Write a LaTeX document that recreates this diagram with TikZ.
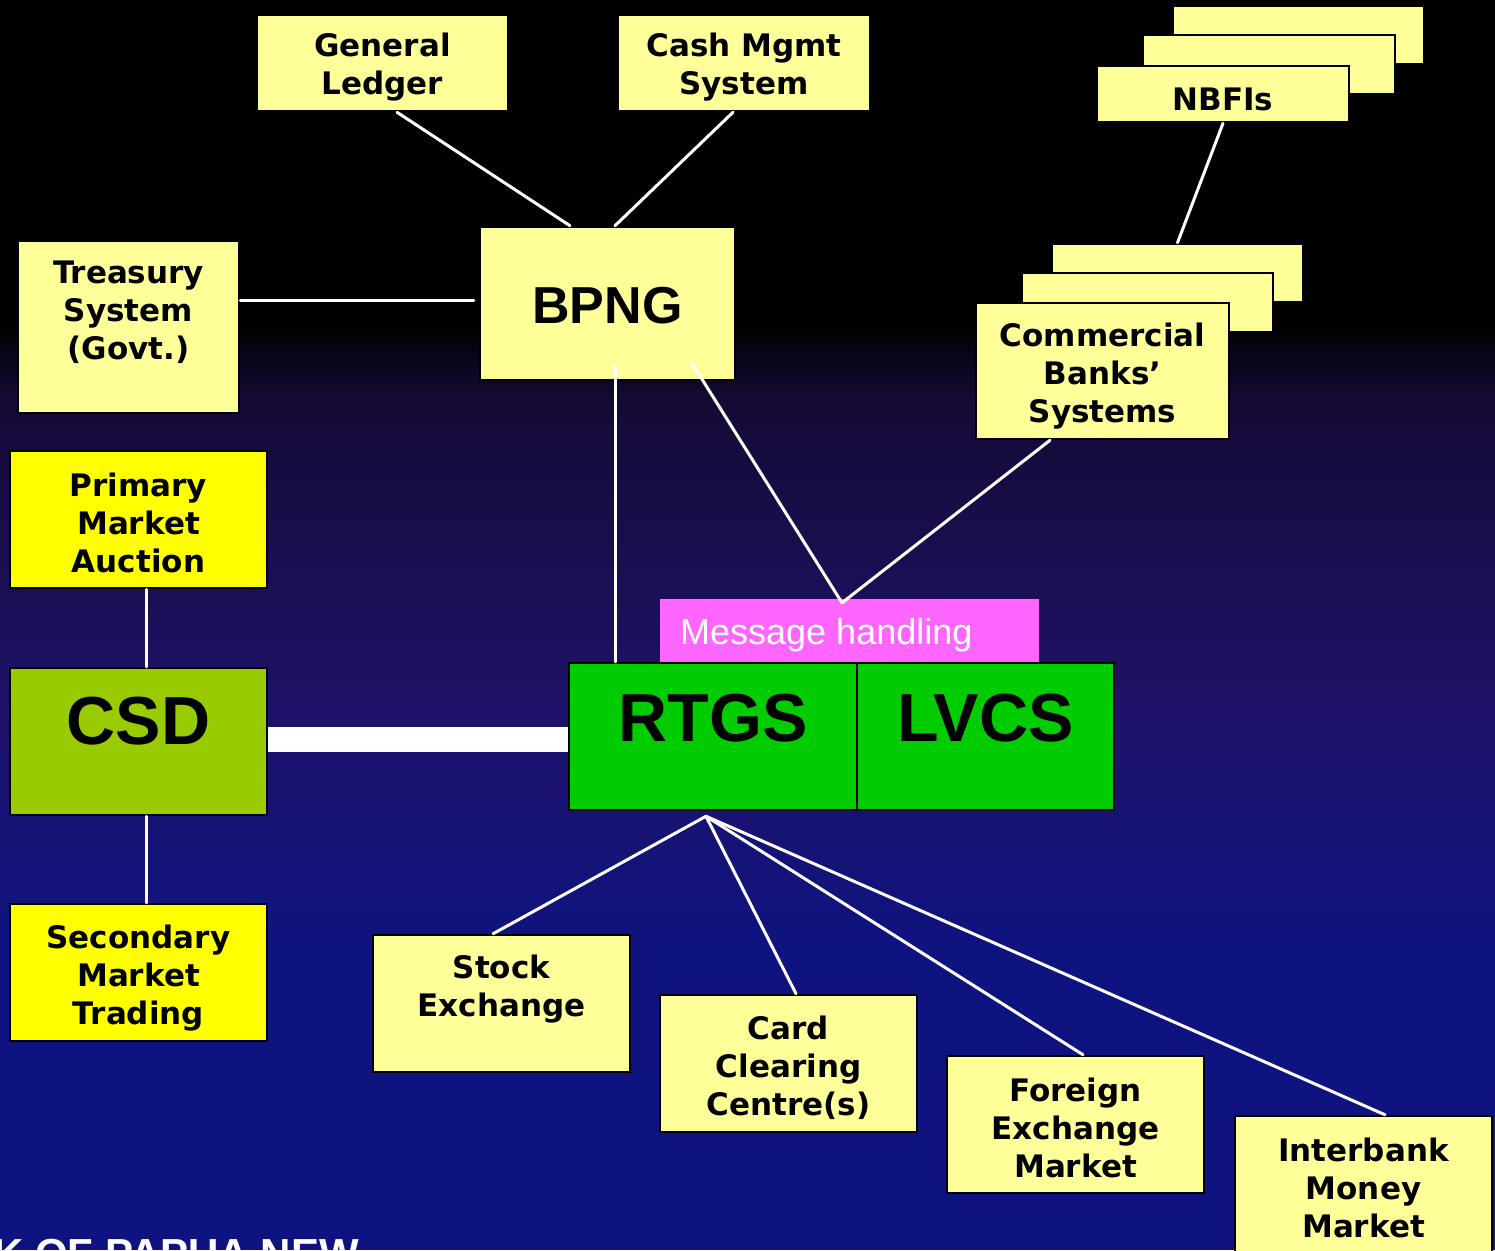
\documentclass[tikz,border=0pt]{standalone}
\usepackage{fontspec}
\setmainfont{DejaVu Sans}
\newfontfamily\arialf{Liberation Sans}
\usetikzlibrary{calc}
\definecolor{paley}{HTML}{FFFF99}
\definecolor{brighty}{HTML}{FFFF00}
\definecolor{csdgreen}{HTML}{99CC00}
\definecolor{rtgsgreen}{HTML}{00CC00}
\definecolor{msgpink}{HTML}{FF66FF}
\definecolor{bgA}{HTML}{150A35}
\definecolor{bgB}{HTML}{1E1268}
\definecolor{bgC}{HTML}{0F1380}
\tikzset{
  ybox/.style={draw=black, line width=2.5pt, fill=paley, inner sep=0pt},
  vtxt/.style={font=\fontsize{31}{38}\selectfont\bfseries, align=center, inner sep=0pt, text=black},
  bigtxt/.style={font=\arialf\fontsize{68}{70}\selectfont\bfseries, inner sep=0pt, text=black},
  conn/.style={draw=white, line width=3pt, line cap=round}
}
\begin{document}
\begin{tikzpicture}[x=1pt,y=-1pt]
\useasboundingbox (0,0) rectangle (1495,1250);
\clip (0,0) rectangle (1495,1250);
% background
\fill[black] (0,0) rectangle (1495,321);
\shade[top color=black, bottom color=bgA] (0,320) rectangle (1495,401);
\shade[top color=bgA, bottom color=bgB] (0,400) rectangle (1495,701);
\shade[top color=bgB, bottom color=bgC] (0,700) rectangle (1495,951);
\fill[bgC] (0,950) rectangle (1495,1250);

% top boxes
\node[ybox, minimum width=251pt, minimum height=96pt] (gl) at (382.5,63) {};
\node[vtxt] at (382.5,67) {General\\Ledger};
\node[ybox, minimum width=252pt, minimum height=96pt] (cm) at (744,63) {};
\node[vtxt] at (744,67) {Cash Mgmt\\System};

% NBFIs stack
\node[ybox, minimum width=251pt, minimum height=58pt] (nb3) at (1298.5,35) {};
\node[ybox, minimum width=252pt, minimum height=59pt] (nb2) at (1269,64.5) {};
\node[ybox, minimum width=252pt, minimum height=56pt] (nb1) at (1223,94) {};
\node[vtxt] at (1223,99) {NBFIs};

% Commercial banks stack
\node[ybox, minimum width=251pt, minimum height=58pt] (cb3) at (1177.5,273) {};
\node[ybox, minimum width=251pt, minimum height=59pt] (cb2) at (1147.5,302.5) {};
\node[ybox, minimum width=253pt, minimum height=136pt] (cb) at (1102.5,371) {};
\node[vtxt] at (1102.5,376) {Commercial\\Banks’\\Systems};

% Treasury
\node[ybox, minimum width=221pt, minimum height=172pt] (ts) at (128.5,327) {};
\node[vtxt] at (128.5,312) {Treasury\\System\\(Govt.)};

% BPNG
\node[ybox, minimum width=255pt, minimum height=153pt] (bpng) at (607.5,303.5) {};
\node[font=\arialf\fontsize{52}{55}\selectfont\bfseries, inner sep=0pt] at (607.5,306) {BPNG};

% left column
\node[ybox, fill=brighty, minimum width=257pt, minimum height=137pt] (pm) at (138.5,519.5) {};
\node[vtxt] at (138.5,523) {Primary\\Market\\Auction};
\node[ybox, fill=csdgreen, minimum width=257pt, minimum height=147pt] (csd) at (138.5,741.5) {};
\node[bigtxt] at (138.5,721) {CSD};
\node[ybox, fill=brighty, minimum width=257pt, minimum height=137pt] (sm) at (138.5,972.5) {};
\node[vtxt] at (138.5,978) {Secondary\\Market\\Trading};

% message handling + RTGS/LVCS
\node[fill=msgpink, minimum width=379pt, minimum height=64pt, inner sep=0pt] (msg) at (849.5,631) {};
\node[font=\arialf\fontsize{36}{38}\selectfont, text=white, anchor=west, inner sep=0pt] at (680,635) {Message handling};
\node[ybox, fill=rtgsgreen, minimum width=288pt, minimum height=147pt] (rtgs) at (713,736.5) {};
\node[bigtxt] at (713,718) {RTGS};
\node[ybox, fill=rtgsgreen, minimum width=257pt, minimum height=147pt] (lvcs) at (985.5,736.5) {};
\node[bigtxt] at (985.5,718) {LVCS};

% bottom boxes
\node[ybox, minimum width=257pt, minimum height=137pt] (se) at (501.5,1003.5) {};
\node[vtxt] at (501.5,989) {Stock\\Exchange};
\node[ybox, minimum width=257pt, minimum height=137pt] (cc) at (788.5,1063.5) {};
\node[vtxt] at (788.5,1068) {Card\\Clearing\\Centre(s)};
\node[ybox, minimum width=257pt, minimum height=137pt] (fx) at (1075.5,1124.5) {};
\node[vtxt] at (1075.5,1128) {Foreign\\Exchange\\Market};
\node[ybox, minimum width=257pt, minimum height=137pt] (ib) at (1363.5,1184.5) {};
\node[vtxt] at (1363.5,1188) {Interbank\\Money\\Market};

% connectors
\coordinate (hub) at ($(rtgs.south)+(-7,5)$);
\coordinate (mj) at ($(msg.north)+(-7.5,4)$);
\draw[conn] ($(gl.south)+(14.5,0)$) -- ($(bpng.north)+(-37.5,0)$);
\draw[conn] ($(cm.south)+(-11,0)$) -- ($(bpng.north)+(7.5,0)$);
\draw[conn] ($(ts.east)+(0,-27)$) -- ($(bpng.west)+(-5,-3.5)$);
\draw[conn] ($(bpng.south)+(7.5,-15)$) -- ($(rtgs.north)+(-98,0)$);
\draw[conn] ($(bpng.south)+(84.5,-18)$) -- (mj);
\draw[conn] ($(cb.south)+(-52.5,0)$) -- (mj);
\draw[conn] (nb1.south) -- (cb3.north);
\draw[conn] ($(pm.south)+(7.5,0)$) -- ($(csd.north)+(7.5,0)$);
\draw[conn] ($(csd.south)+(7.5,0)$) -- ($(sm.north)+(7.5,0)$);
\draw[draw=white, line width=25pt] ($(csd.east)+(0,-2)$) -- ($(rtgs.west)+(0,3)$);
\draw[conn] (hub) -- ($(se.north)+(-8.5,0)$);
\draw[conn] (hub) -- ($(cc.north)+(7.5,0)$);
\draw[conn] (hub) -- ($(fx.north)+(7.5,0)$);
\draw[conn] (hub) -- ($(ib.north)+(21.5,0)$);

% footer text (cut off at the picture's edge, as in the original)
\node[font=\arialf\fontsize{42}{44}\selectfont\bfseries, text=white, anchor=base west, inner sep=0pt] (foot) at (-7,1268) {K OF PAPUA NEW};
\end{tikzpicture}
\end{document}
